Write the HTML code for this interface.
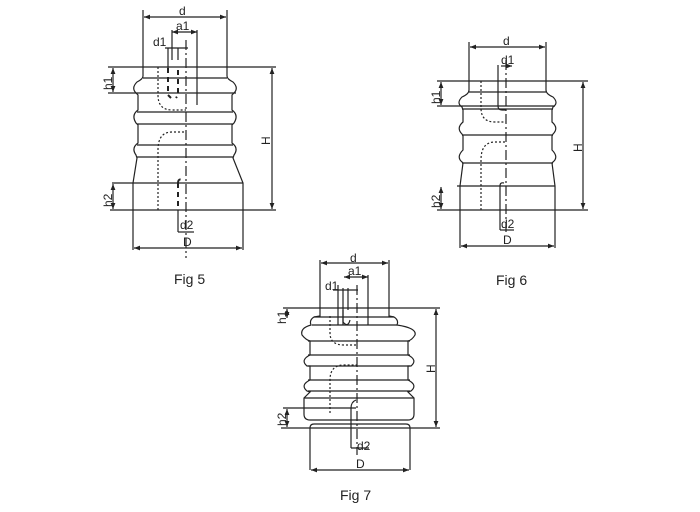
<!DOCTYPE html>
<html><head><meta charset="utf-8"><style>
html,body{margin:0;padding:0;background:#fff;}
svg{display:block;font-family:"Liberation Sans",Arial,sans-serif;}
</style></head><body>
<svg width="700" height="512" viewBox="0 0 700 512">
<defs>
<marker id="a" viewBox="0 0 10 10" refX="10" refY="5" markerWidth="5" markerHeight="5" orient="auto-start-reverse"><path d="M0,1 L10,5 L0,9z" fill="#222"/></marker>
</defs>
<g stroke="#222" stroke-width="1.2" fill="none">
<!-- FIG 5 -->
<line x1="143" y1="10" x2="143" y2="67"/><line x1="227" y1="10" x2="227" y2="67"/>
<line x1="144" y1="17" x2="226" y2="17" marker-start="url(#a)" marker-end="url(#a)"/>
<line x1="108" y1="67" x2="276" y2="67"/>
<path d="M143,67 L143,76 Q143,79 137,82 Q131,88 136,93 L138,95 L138,110 Q131,115 136,123 L138,125 L138,143 Q131,148 136,155 L137,158 L133,183 L133,250"/>
<path d="M227,67 L227,76 Q227,79 233,82 Q239,88 234,93 L232,95 L232,110 Q239,115 234,123 L232,125 L232,143 Q239,148 234,155 L233,158 L243,183 L243,250"/>
<line x1="143" y1="78" x2="227" y2="78"/>
<line x1="108" y1="93" x2="236" y2="93"/>
<line x1="137" y1="112" x2="233" y2="112"/>
<line x1="137" y1="124" x2="233" y2="124"/>
<line x1="137" y1="145" x2="233" y2="145"/>
<line x1="137" y1="157" x2="233" y2="157"/>
<line x1="112" y1="183" x2="243" y2="183"/>
<line x1="110" y1="210" x2="276" y2="210"/>
<line x1="272" y1="68" x2="272" y2="209" marker-start="url(#a)" marker-end="url(#a)"/>
<line x1="113" y1="68" x2="113" y2="92" marker-start="url(#a)" marker-end="url(#a)"/>
<line x1="113" y1="184" x2="113" y2="209" marker-start="url(#a)" marker-end="url(#a)"/>
<line x1="134" y1="248" x2="242" y2="248" marker-start="url(#a)" marker-end="url(#a)"/>
<line x1="186" y1="40" x2="186" y2="258" stroke-dasharray="10,3,2,3"/>
<line x1="172" y1="30" x2="172" y2="60"/><line x1="178" y1="48" x2="178" y2="60"/>
<line x1="165" y1="48" x2="188" y2="48"/>
<line x1="168" y1="48" x2="168" y2="68"/>
<line x1="172" y1="32" x2="197" y2="32" marker-start="url(#a)" marker-end="url(#a)"/>
<line x1="197" y1="30" x2="197" y2="105"/>
<path d="M168,68 L168,95 L171,98 M178,70 L178,95 L176,98" stroke-dasharray="5,4" stroke-width="2"/>
<path d="M158,67 L158,95 Q158,110 172,110 L186,110" stroke-dasharray="2,2"/>
<path d="M158,210 L158,150 Q158,132 172,132 L186,132" stroke-dasharray="2,2"/>
<path d="M178,183 L178,210 M178,183 Q178,178 183,180" stroke-dasharray="5,4" stroke-width="2"/>
<line x1="178" y1="210" x2="178" y2="232"/>
<line x1="178" y1="232" x2="194" y2="232"/>
<!-- FIG 6 -->
<line x1="469" y1="42" x2="469" y2="81"/><line x1="546" y1="42" x2="546" y2="81"/>
<line x1="470" y1="47" x2="545" y2="47" marker-start="url(#a)" marker-end="url(#a)"/>
<line x1="437" y1="81" x2="588" y2="81"/>
<path d="M469,81 L469,90 Q469,94 462,97 Q456,103 462,107 L463,110 L463,122 Q456,128 462,134 L463,136 L463,150 Q456,157 462,162 L463,163 L460,186 L460,248"/>
<path d="M546,81 L546,90 Q546,94 553,97 Q559,103 553,107 L552,110 L552,122 Q559,128 553,134 L552,136 L552,150 Q559,157 553,162 L552,163 L555,186 L555,248"/>
<line x1="469" y1="92" x2="546" y2="92"/>
<line x1="437" y1="106" x2="555" y2="106"/>
<line x1="462" y1="109" x2="553" y2="109"/>
<line x1="462" y1="135" x2="553" y2="135"/>
<line x1="462" y1="163" x2="553" y2="163"/>
<line x1="457" y1="186" x2="555" y2="186"/>
<line x1="437" y1="210" x2="588" y2="210"/>
<line x1="583" y1="82" x2="583" y2="209" marker-start="url(#a)" marker-end="url(#a)"/>
<line x1="441" y1="82" x2="441" y2="105" marker-start="url(#a)" marker-end="url(#a)"/>
<line x1="441" y1="187" x2="441" y2="209" marker-start="url(#a)" marker-end="url(#a)"/>
<line x1="461" y1="246" x2="554" y2="246" marker-start="url(#a)" marker-end="url(#a)"/>
<line x1="506" y1="60" x2="506" y2="232" stroke-dasharray="10,3,2,3"/>
<path d="M498,65 L498,106 Q498,110 502,110 L506,110"/>
<line x1="501" y1="66" x2="512" y2="66" marker-end="url(#a)"/>
<path d="M481,81 L481,108 Q481,122 495,122 L506,122" stroke-dasharray="2,2"/>
<path d="M481,210 L481,160 Q481,142 495,142 L506,142" stroke-dasharray="2,2"/>
<path d="M500,186 L500,230 M500,186 Q500,182 504,183"/>
<line x1="500" y1="230" x2="514" y2="230"/>
<!-- FIG 7 -->
<line x1="320" y1="260" x2="320" y2="308"/><line x1="389" y1="260" x2="389" y2="308"/>
<line x1="321" y1="263" x2="388" y2="263" marker-start="url(#a)" marker-end="url(#a)"/>
<line x1="283" y1="308" x2="440" y2="308"/>
<path d="M320,308 L320,316 L314,317 Q309,320 311,325 Q300,328 302,335 Q306,340 310,341 L310,355 Q300,360 307,366 L310,366 L310,380 Q300,385 307,391 L310,392 L304,398 L304,414 Q304,420 310,420"/>
<path d="M389,308 L389,316 L394,317 Q399,320 397,325 Q417,328 415,335 Q412,340 408,341 L408,355 Q418,360 411,366 L408,366 L408,380 Q418,385 411,391 L408,392 L414,398 L414,414 Q414,420 408,420"/>
<line x1="314" y1="317" x2="394" y2="317"/>
<line x1="312" y1="325" x2="397" y2="325"/>
<line x1="308" y1="341" x2="410" y2="341"/>
<line x1="308" y1="355" x2="410" y2="355"/>
<line x1="308" y1="366" x2="410" y2="366"/>
<line x1="308" y1="380" x2="410" y2="380"/>
<line x1="308" y1="391" x2="410" y2="391"/>
<line x1="304" y1="398" x2="414" y2="398"/>
<line x1="283" y1="408" x2="356" y2="408"/>
<line x1="310" y1="420" x2="408" y2="420"/>
<path d="M310,470 L310,428 Q310,424 314,424 L406,424 Q410,424 410,428 L410,470"/>
<line x1="281" y1="428" x2="440" y2="428"/>
<line x1="436" y1="309" x2="436" y2="427" marker-start="url(#a)" marker-end="url(#a)"/>
<line x1="287" y1="309" x2="287" y2="318" marker-start="url(#a)" marker-end="url(#a)"/>
<line x1="287" y1="409" x2="287" y2="427" marker-start="url(#a)" marker-end="url(#a)"/>
<line x1="311" y1="470" x2="409" y2="470" marker-start="url(#a)" marker-end="url(#a)"/>
<line x1="357" y1="285" x2="357" y2="455" stroke-dasharray="10,3,2,3"/>
<line x1="338" y1="285" x2="338" y2="325"/><line x1="343" y1="288" x2="343" y2="325"/><line x1="348" y1="288" x2="348" y2="310"/>
<line x1="333" y1="290" x2="358" y2="290"/>
<line x1="344" y1="277" x2="368" y2="277" marker-start="url(#a)" marker-end="url(#a)"/>
<line x1="368" y1="275" x2="368" y2="325"/>
<path d="M343,310 L343,322 Q348,328 350,320"/>
<path d="M330,316 L330,333 Q330,345 344,345 L357,345" stroke-dasharray="2,2"/>
<path d="M330,413 L330,380 Q330,365 344,365 L357,365" stroke-dasharray="2,2"/>
<path d="M351,408 L351,448 M351,408 Q351,402 356,400"/>
<line x1="351" y1="448" x2="369" y2="448"/>
</g>
<g fill="#222" font-size="12">
<text x="179" y="15">d</text><text x="176" y="30">a1</text><text x="153" y="46">d1</text>
<text x="112" y="90" transform="rotate(-90 112 90)">h1</text>
<text x="112" y="207" transform="rotate(-90 112 207)">h2</text>
<text x="270" y="145" transform="rotate(-90 270 145)">H</text>
<text x="180" y="229">d2</text><text x="183" y="246">D</text>
<text x="503" y="45">d</text><text x="501" y="64">d1</text>
<text x="440" y="104" transform="rotate(-90 440 104)">h1</text>
<text x="440" y="208" transform="rotate(-90 440 208)">h2</text>
<text x="582" y="152" transform="rotate(-90 582 152)">H</text>
<text x="501" y="228">d2</text><text x="503" y="244">D</text>
<text x="350" y="262">d</text><text x="348" y="275">a1</text><text x="325" y="290">d1</text>
<text x="286" y="324" transform="rotate(-90 286 324)">h1</text>
<text x="286" y="426" transform="rotate(-90 286 426)">h2</text>
<text x="435" y="373" transform="rotate(-90 435 373)">H</text>
<text x="357" y="450">d2</text><text x="356" y="468">D</text>
</g>
<g fill="#222" font-size="14">
<text x="174" y="284">Fig 5</text><text x="496" y="285">Fig 6</text><text x="340" y="500">Fig 7</text>
</g>
</svg>
</body></html>
